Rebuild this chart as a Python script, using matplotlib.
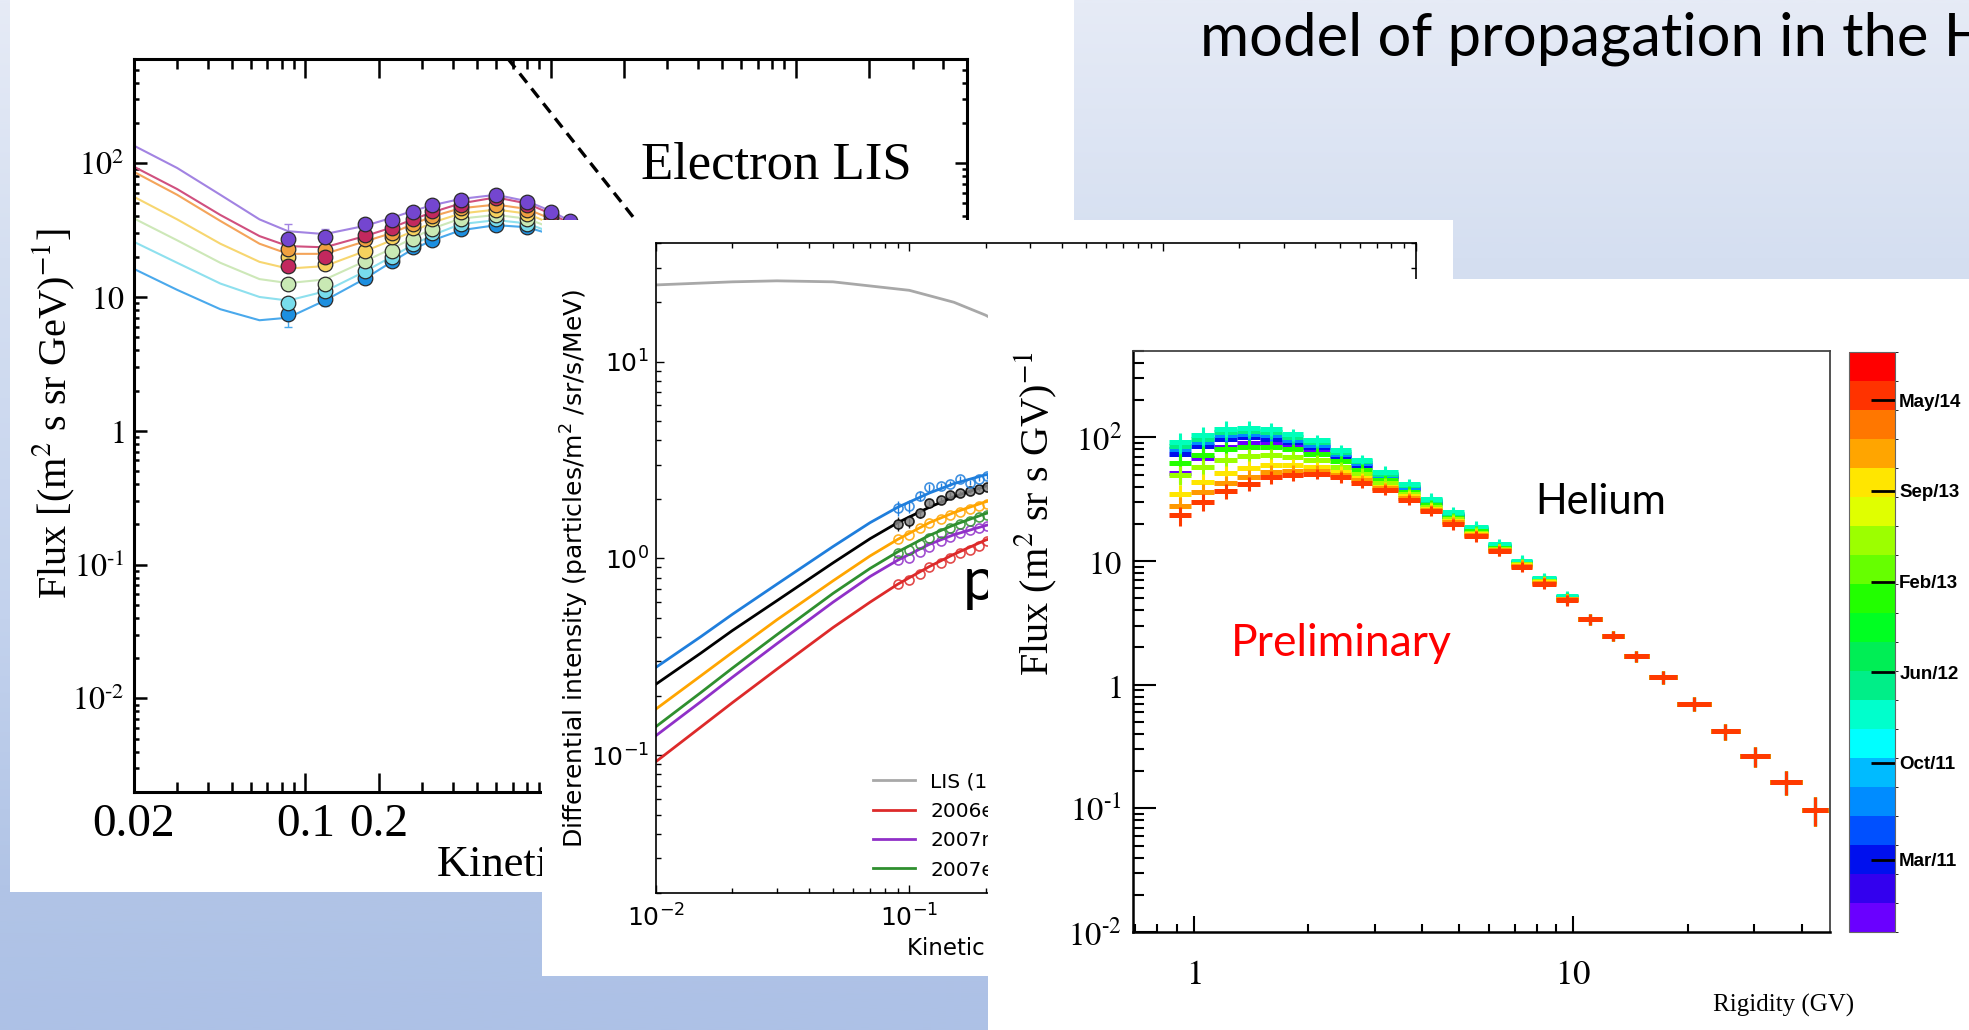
import matplotlib
matplotlib.use("Agg")
import matplotlib.pyplot as plt
import numpy as np
from matplotlib.colors import ListedColormap, BoundaryNorm, LinearSegmentedColormap
from matplotlib.colorbar import ColorbarBase
from matplotlib.patches import Rectangle
from matplotlib.ticker import NullFormatter

W, H = 1969, 1030

# ---------------- electrons: modulated spectra and fits ----------------
e_fit_energy = [0.02, 0.03, 0.045, 0.065, 0.085, 0.12, 0.175, 0.225, 0.275, 0.33, 0.43, 0.6, 0.8, 1.0, 1.2, 1.6, 2.2]
e_fit_purple = [135, 92, 58, 38, 31, 29.5, 34, 39, 44, 48.5, 54, 58, 52, 44, 37, 27, 18]
e_fit_magenta = [94, 64, 41, 28.5, 24, 23.5, 28.5, 33, 38, 43, 50, 55.5, 50, 42, 35.5, 26, 17]
e_fit_orange = [86, 58, 37, 25, 21, 21, 26, 30, 35, 40, 46, 49, 45.5, 38.5, 32.5, 23.5, 15.5]
e_fit_yellow = [56, 38, 25, 18.3, 16.3, 17, 22, 26.5, 31, 36, 42, 45, 42, 35.5, 30, 22, 14.5]
e_fit_lgreen = [38.6, 26.5, 18, 13.6, 12.7, 13.5, 18.5, 23, 27.5, 32.5, 38.5, 41, 38.5, 33, 27.5, 20, 13.5]
e_fit_cyan = [25.8, 18, 12.6, 10, 9.4, 11, 15.5, 20, 24.5, 29, 35, 37.5, 35.5, 30.5, 26, 19, 13]
e_fit_blue = [16.2, 11.3, 8.1, 6.7, 7.0, 9.4, 13.7, 18.3, 22.8, 26.5, 31.5, 34.4, 33.2, 29.5, 25.5, 18.5, 12.5]

e_dot_energy = [0.085, 0.12, 0.175, 0.225, 0.275, 0.33, 0.43, 0.6, 0.8, 1.0, 1.2]
e_dot_purple = [27, 28, 35, 37.5, 43, 48.5, 53, 58, 51, 43, 37]
e_dot_magenta = [17, 20, 29, 33, 38, 44, 49, 55, 49, 41, 35]
e_dot_orange = [23, 22.5, 27, 30, 35, 40, 46, 49, 45, 38, 32]
e_dot_yellow = [20, 17.5, 22, 28, 33, 38, 43, 45, 42, 36, 30]
e_dot_lgreen = [12.5, 12.5, 18.5, 22, 27, 32, 38, 41, 38, 32, 27]
e_dot_cyan = [9, 11, 15.5, 20, 25, 30, 35, 38, 35, 30, 25.5]
e_dot_blue = [7.5, 9.6, 13.8, 18.5, 23.5, 26.5, 32, 34.5, 33.5, 29, 25]
e_err_purple = [8, 4, 2.5, 2, 2, 2, 2, 2, 2, 2, 2]
e_err_blue = [1.5, 1, 1, 1, 1, 1, 1, 1, 1, 1, 1]

e_lis_energy = [0.6, 2.0, 6.0]
e_lis_flux = [780, 48, 3.7]

e_xticks = [0.02, 0.1, 0.2, 1, 2, 10, 20]
e_xticklabels = ["0.02", "0.1", "0.2", "1", "2", "10", "20"]

# ---------------- protons: modulation curves ----------------
p_energy = [0.01, 0.015, 0.02, 0.03, 0.05, 0.07, 0.09, 0.12, 0.15, 0.2, 0.3]
p_blue = [0.28, 0.40, 0.52, 0.74, 1.15, 1.52, 1.82, 2.15, 2.40, 2.66, 2.95]
p_black = [0.23, 0.33, 0.43, 0.61, 0.95, 1.26, 1.52, 1.82, 2.06, 2.33, 2.62]
p_orange = [0.172, 0.253, 0.333, 0.488, 0.77, 1.03, 1.25, 1.52, 1.71, 1.94, 2.2]
p_green = [0.14, 0.208, 0.277, 0.41, 0.665, 0.89, 1.08, 1.31, 1.48, 1.69, 1.95]
p_purple = [0.126, 0.187, 0.249, 0.369, 0.60, 0.81, 0.98, 1.18, 1.32, 1.47, 1.68]
p_red = [0.093, 0.139, 0.185, 0.274, 0.446, 0.60, 0.74, 0.91, 1.05, 1.24, 1.45]

p_lis_energy = [0.01, 0.02, 0.03, 0.05, 0.1, 0.15, 0.2, 0.3, 0.5]
p_lis_flux = [24.5, 25.4, 25.7, 25.4, 23, 20, 17.2, 13, 8]

p_dot_energy = [0.09, 0.1, 0.11, 0.12, 0.133, 0.145, 0.158, 0.173, 0.188, 0.203]
p_dot_blue = [1.80, 1.84, 2.08, 2.30, 2.33, 2.40, 2.54, 2.43, 2.54, 2.61]
p_dot_black = [1.50, 1.55, 1.71, 1.91, 1.99, 2.11, 2.14, 2.20, 2.25, 2.30]
p_dot_orange = [1.25, 1.32, 1.42, 1.52, 1.58, 1.66, 1.72, 1.79, 1.85, 1.90]
p_dot_green = [1.06, 1.10, 1.18, 1.27, 1.34, 1.42, 1.49, 1.55, 1.62, 1.67]
p_dot_purple = [0.98, 1.01, 1.08, 1.15, 1.22, 1.28, 1.34, 1.39, 1.43, 1.47]
p_dot_red = [0.74, 0.78, 0.83, 0.90, 0.95, 1.00, 1.06, 1.11, 1.16, 1.22]
p_err_blue = [0.15, 0.14, 0.12, 0.1, 0.08, 0.08, 0.07, 0.07, 0.07, 0.07]
p_err_black = [0.12, 0.12, 0.1, 0.08, 0.07, 0.07, 0.06, 0.06, 0.06, 0.06]

p_labels = ["LIS (122 AU)", "2006end", "2007mid", "2007end", "2008mid", "2008end", "2009end"]

# ---------------- helium: monthly fluxes vs rigidity ----------------
he_edges = [0.86, 0.98, 1.13, 1.30, 1.49, 1.71, 1.94, 2.28, 2.60, 2.95, 3.45, 3.95, 4.50, 5.15,
            5.95, 6.85, 7.80, 9.00, 10.3, 11.9, 13.6, 15.8, 18.8, 23.0, 27.5, 33.0, 40.0, 47.0]
he_rel_err = [0.18, 0.16, 0.14, 0.13, 0.12, 0.11, 0.1, 0.1, 0.1, 0.1, 0.1, 0.1, 0.1, 0.1,
              0.1, 0.1, 0.1, 0.1, 0.1, 0.1, 0.1, 0.12, 0.13, 0.15, 0.18, 0.22, 0.26]
he_tail = [3.38, 2.49, 1.71, 1.15, 0.70, 0.42, 0.264, 0.163, 0.0975]
he_teal = [92, 104, 118, 120, 116, 106, 95, 79, 66, 53, 42, 32, 25, 19, 13.8, 10.1, 7.3, 5.2]
he_aqua = [86, 98, 110, 113, 110, 101, 91, 76, 64, 51, 41, 31, 24, 18.6, 13.5, 9.9, 7.2, 5.15]
he_blue = [80, 92, 104, 107, 104, 96, 87, 73, 62, 50, 40, 30.5, 23.6, 18.3, 13.3, 9.8, 7.1, 5.1]
he_navy = [74, 86, 97, 100, 98, 91, 83, 70, 60, 48.5, 39, 30, 23.2, 18, 13.1, 9.7, 7.0, 5.05]
he_violet = [52, 68, 84, 90, 90, 86, 79, 68, 58, 47, 38, 29.5, 23, 17.8, 13, 9.6, 6.95, 5.0]
he_green = [62, 72, 80, 84, 84, 80, 74, 64, 55, 45, 36.5, 28.5, 22.4, 17.4, 12.8, 9.5, 6.9, 4.98]
he_lime = [50, 58, 66, 71, 72, 70, 66, 58, 51, 42.5, 35, 27.5, 21.8, 17, 12.6, 9.4, 6.85, 4.95]
he_yellow = [35, 44, 52, 57, 60, 60, 58, 53, 47, 40, 33.5, 26.6, 21.2, 16.6, 12.4, 9.3, 6.8, 4.92]
he_orange = [28, 36, 43, 48, 53, 54, 54, 50, 45, 39, 32.5, 26, 20.6, 16.3, 12.3, 9.2, 6.7, 4.9]
he_red = [23.4, 30, 37, 42, 47.5, 49.5, 50.8, 47.5, 43, 37.7, 31.4, 25.5, 19.9, 15.9, 12.1, 9.0, 6.58, 4.83]

cbar_months = [6, 14, 21.5, 29, 36.5, 44]
cbar_labels = ["Mar/11", "Oct/11", "Jun/12", "Feb/13", "Sep/13", "May/14"]
palette = ["#6a00ff", "#3300ee", "#0010ee", "#0050ff", "#008cff", "#00bbff", "#00ffff",
           "#00ffcc", "#00ee88", "#00ee55", "#00ff22", "#22ff00", "#66ff00", "#9cff00",
           "#e0ff00", "#ffe600", "#ffa500", "#ff7700", "#ff3300", "#ff0000"]

# serif decade labels with a short hyphen in the exponent
decade_ticks = [1e-2, 1e-1, 1, 10, 100]
decade_labels = ["$10^{\u2010" + "2}$", "$10^{\u2010" + "1}$", "$1$", "$10$", "$10^{2}$"]


fig = plt.figure(figsize=(W / 100, H / 100), dpi=100)


def frac(x0, y0, x1, y1):
    return [x0 / W, 1 - y1 / H, (x1 - x0) / W, (y1 - y0) / H]


def sheet(x0, y0, x1, y1, z):
    fig.add_artist(Rectangle((x0 / W, 1 - y1 / H), (x1 - x0) / W, (y1 - y0) / H,
                             transform=fig.transFigure, facecolor="white",
                             edgecolor="none", zorder=z))


# slide background
bg = fig.add_axes([0, 0, 1, 1], zorder=0)
slide = LinearSegmentedColormap.from_list(
    "slide", [(0, "#e6ebf6"), (0.25, "#d5dff1"), (0.6, "#c3d2ed"), (0.86, "#b1c4e6"), (1, "#adc1e6")])
bg.imshow(np.linspace(0, 1, 512).reshape(-1, 1), cmap=slide, aspect="auto",
          extent=[0, 1, 0, 1], origin="upper")
bg.set_xlim(0, 1)
bg.set_ylim(0, 1)
bg.set_axis_off()

fig.text(1200 / W, 1 - 56 / H, "model of propagation in the Heliosphere", fontsize=43,
         family="Lato", ha="left", va="baseline", zorder=10)

# ---- electron panel ----
sheet(10, 0, 1074, 892, 1)
ax1 = fig.add_axes(frac(134, 59, 967, 792), zorder=2)
ax1.set_xscale("log")
ax1.set_yscale("log")

e_series = [
    (e_fit_blue, e_dot_blue, "#4aa9ec", "#1c8fe0"),
    (e_fit_cyan, e_dot_cyan, "#8ee0ee", "#78dcec"),
    (e_fit_lgreen, e_dot_lgreen, "#cde8b8", "#c9e9b4"),
    (e_fit_yellow, e_dot_yellow, "#f7d670", "#f6d25e"),
    (e_fit_orange, e_dot_orange, "#f4a45a", "#f0a040"),
    (e_fit_magenta, e_dot_magenta, "#d0507f", "#c2285e"),
    (e_fit_purple, e_dot_purple, "#a283e2", "#7446d0"),
]
for fit, dots, lc, fc in e_series:
    ax1.plot(e_fit_energy, fit, color=lc, lw=1.5, zorder=2)
ax1.errorbar(e_dot_energy, e_dot_blue, yerr=e_err_blue, fmt="none", ecolor="#4aa9ec", elinewidth=1, capsize=3, zorder=2)
ax1.errorbar(e_dot_energy, e_dot_purple, yerr=e_err_purple, fmt="none", ecolor="#a283e2", elinewidth=1, capsize=3, zorder=2)
for fit, dots, lc, fc in e_series:
    ax1.plot(e_dot_energy, dots, "o", ms=10.5, mfc=fc, mec="#2a2a2a", mew=0.9, zorder=3)
ax1.plot(e_lis_energy, e_lis_flux, color="black", lw=2.4, ls=(0, (3.5, 2.2)), zorder=3)

ax1.set_xlim(0.02, 50)
ax1.set_ylim(2e-3, 6e2)
ax1.set_xticks(e_xticks, e_xticklabels, family="Liberation Serif", fontsize=34)
ax1.set_yticks(decade_ticks, decade_labels, fontsize=23, math_fontfamily="stix")
ax1.xaxis.set_minor_formatter(NullFormatter())
ax1.yaxis.set_minor_formatter(NullFormatter())
ax1.tick_params(which="both", direction="in", top=True, right=True, width=1.8, color="black")
ax1.tick_params(axis="x", which="major", length=14, pad=8)
ax1.tick_params(axis="x", which="minor", length=7.5)
ax1.tick_params(axis="y", which="major", length=9, pad=7)
ax1.tick_params(axis="y", which="minor", length=3.5)
for s in ax1.spines.values():
    s.set_linewidth(2.2)
ax1.text(-0.096, 0.516, "Flux [(m$^2$ s sr GeV)$^{-1}$]", rotation=90, ha="center", va="center",
         transform=ax1.transAxes, family="Liberation Serif", math_fontfamily="stix", fontsize=29)
ax1.text(0.364, -0.1, "Kinetic energy (GeV)", transform=ax1.transAxes, ha="left", va="center",
         family="Liberation Serif", fontsize=32)
ax1.text(0.609, 0.855, "Electron LIS", transform=ax1.transAxes, ha="left", va="center",
         family="Liberation Serif", fontsize=38)

# ---- proton panel ----
sheet(542, 220, 1453, 976, 3)
ax2 = fig.add_axes(frac(656, 243, 1416, 893), zorder=4)
ax2.set_xscale("log")
ax2.set_yscale("log")
ax2.plot(p_lis_energy, p_lis_flux, color="#a8a8a8", lw=2, label=p_labels[0])
p_series = [
    (p_red, p_dot_red, "#dd2a2a", p_labels[1]),
    (p_purple, p_dot_purple, "#9030c8", p_labels[2]),
    (p_green, p_dot_green, "#2f8f2f", p_labels[3]),
    (p_orange, p_dot_orange, "#ffa500", p_labels[4]),
    (p_black, p_dot_black, "#000000", p_labels[5]),
    (p_blue, p_dot_blue, "#1f7edc", p_labels[6]),
]
for curve, dots, col, lab in p_series:
    ax2.plot(p_energy, curve, color=col, lw=2, label=lab)
ax2.errorbar(p_dot_energy, p_dot_blue, yerr=p_err_blue, fmt="none", ecolor="#1f7edc", elinewidth=1)
ax2.errorbar(p_dot_energy, p_dot_black, yerr=p_err_black, fmt="none", ecolor="#222222", elinewidth=1)
for curve, dots, col, lab in p_series:
    face = "#888888" if col == "#000000" else "none"
    ax2.plot(p_dot_energy, dots, "o", ms=6.5, mfc=face, mec=col, mew=1.2, alpha=0.85)

ax2.set_xlim(0.01, 10)
ax2.set_ylim(0.02, 40)
ax2.tick_params(which="both", direction="in", top=True, right=True, width=1, labelsize=18)
ax2.tick_params(axis="x", which="major", length=6, pad=8)
ax2.tick_params(axis="y", which="major", length=6, pad=5)
ax2.tick_params(which="minor", length=3.5)
for s in ax2.spines.values():
    s.set_linewidth(1.2)
ax2.text(-0.107, 0.5, "Differential intensity (particles/m$^2$ /sr/s/MeV)", rotation=90,
         ha="center", va="center", transform=ax2.transAxes, fontsize=18)
ax2.text(0.33, -0.085, "Kinetic energy (GeV)", transform=ax2.transAxes, ha="left", va="center",
         fontsize=16.5)
ax2.text(0.403, 0.45, "protons", transform=ax2.transAxes, ha="left", va="baseline",
         family="Lato", fontsize=43)
ax2.legend(loc="upper left", bbox_to_anchor=(0.2855, 0.186), ncol=2, frameon=False, fontsize=14.5,
           handlelength=2.1, handletextpad=0.75, labelspacing=0.52, borderpad=0,
           borderaxespad=0, columnspacing=1.0)

# ---- helium panel ----
sheet(988, 279, 1969, 1030, 5)
ax3 = fig.add_axes(frac(1133, 351, 1830, 932), zorder=6)
ax3.set_xscale("log")
ax3.set_yscale("log")
lo = np.array(he_edges[:-1])
hi = np.array(he_edges[1:])
mid = np.sqrt(lo * hi)
err = np.array(he_rel_err)
he_series = [
    (he_violet, "#6a00ff"), (he_navy, "#0010ee"), (he_blue, "#008cff"), (he_aqua, "#00ee88"),
    (he_teal, "#00ffbb"), (he_green, "#22ff00"), (he_lime, "#9cff00"), (he_yellow, "#ffe600"),
    (he_orange, "#ff9900"), (he_red, "#ff3a00"),
]
for low_part, col in he_series:
    flux = np.array(low_part + he_tail)
    ax3.hlines(flux, lo, hi, colors=col, lw=3.6)
    ax3.vlines(mid, flux * (1 - err), flux * (1 + err), colors=col, lw=2.2)

ax3.set_xlim(0.69, 47.5)
ax3.set_ylim(0.01, 500)
ax3.set_xticks([1, 10], ["$1$", "$10$"], fontsize=25, math_fontfamily="stix")
ax3.set_yticks(decade_ticks, decade_labels, fontsize=23.5, math_fontfamily="stix")
ax3.xaxis.set_minor_formatter(NullFormatter())
ax3.yaxis.set_minor_formatter(NullFormatter())
ax3.tick_params(which="both", direction="in", width=1.5, color="black")
ax3.tick_params(axis="x", which="major", length=11.5, pad=18)
ax3.tick_params(axis="x", which="minor", length=5.8)
ax3.tick_params(axis="y", which="major", length=16.5, pad=8)
ax3.tick_params(axis="y", which="minor", length=7.7)
for side in ["left", "bottom"]:
    ax3.spines[side].set_linewidth(1.8)
for side in ["top", "right"]:
    ax3.spines[side].set_linewidth(1.3)
    ax3.spines[side].set_color("#444444")
ax3.text(-0.14, 1.0, "Flux (m$^2$ sr s GV)$^{-1}$", rotation=90, ha="center", va="top",
         transform=ax3.transAxes, family="Liberation Serif", math_fontfamily="stix", fontsize=29)
ax3.text(0.933, -0.126, "Rigidity (GV)", transform=ax3.transAxes, ha="center", va="center",
         family="Liberation Serif", fontsize=18)
ax3.text(0.577, 0.74, "Helium", transform=ax3.transAxes, ha="left", va="center",
         family="Lato", fontsize=30)
ax3.text(0.1406, 0.497, "Preliminary", transform=ax3.transAxes, ha="left", va="center",
         family="Lato", fontsize=32, color="#ff0000")

cax = fig.add_axes(frac(1849, 352, 1895, 932), zorder=6)
bounds = np.linspace(0, 48, len(palette) + 1)
cb = ColorbarBase(cax, cmap=ListedColormap(palette), norm=BoundaryNorm(bounds, len(palette)),
                  orientation="vertical")
cb.set_ticks(cbar_months, labels=cbar_labels)
cb.outline.set_linewidth(0.8)
cb.outline.set_edgecolor("#666666")
cax.tick_params(direction="in", length=17, width=2, color="black", pad=3)
for lbl in cax.get_yticklabels():
    lbl.set_family("Liberation Sans")
    lbl.set_fontweight("bold")
    lbl.set_fontsize(13.5)

fig.savefig("out.png", dpi=100)
